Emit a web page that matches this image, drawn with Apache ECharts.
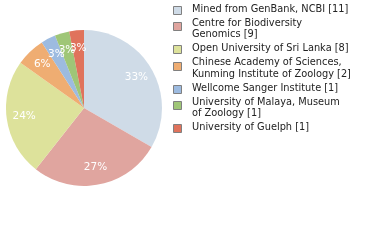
<!DOCTYPE html>
<html><head><meta charset="utf-8">
<script src="https://cdn.jsdelivr.net/npm/echarts@6/dist/echarts.min.js"></script>
<style>html,body{margin:0;padding:0;background:#fff}#c{width:380px;height:240px}</style>
</head><body><div id="c"></div>
<script>
const categories = [
  "Mined from GenBank, NCBI",
  "Centre for Biodiversity\nGenomics",
  "Open University of Sri Lanka",
  "Chinese Academy of Sciences,\nKunming Institute of Zoology",
  "Wellcome Sanger Institute",
  "University of Malaya, Museum\nof Zoology",
  "University of Guelph"
];
const values = [11, 9, 8, 2, 1, 1, 1];
const colors = ["#cfdbe7", "#e0a59f", "#dde29b", "#efad72", "#9dbbe0", "#9fc677", "#e0735c"];

const total = values.reduce((a, b) => a + b, 0);
const data = categories.map((n, i) => ({ name: n, value: values[i], itemStyle: { color: colors[i] } }));

// legend via graphic
const graphics = [];
let y = 9;
categories.forEach((n, i) => {
  const lines = n.split("\n");
  const label = lines.slice(0, -1).concat([lines[lines.length - 1] + " [" + values[i] + "]"]);
  const my = y + (lines.length > 1 ? 3 : 0.5);
  graphics.push({ type: 'rect', shape: { x: 173.5, y: Math.round(my - 4) + 0.5, width: 8, height: 8 },
    style: { fill: colors[i], stroke: '#808080', lineWidth: 1 } });
  label.forEach((t, k) => {
    graphics.push({ type: 'text', x: 192, y: y + k * 11.5,
      style: { text: t, fill: '#222', font: '9.8px "DejaVu Sans"', textVerticalAlign: 'middle' } });
  });
  y += (lines.length - 1) * 11.5 + 14;
});

const chart = echarts.init(document.getElementById('c'), null, { renderer: 'canvas' });
chart.setOption({
  animation: false,
  graphic: graphics,
  series: [
    {
      type: 'pie', center: [84, 108], radius: [0, 78], startAngle: 90, clockwise: true,
      label: { show: false }, labelLine: { show: false }, silent: true,
      itemStyle: { borderWidth: 0 },
      data: data
    },
    {
      type: 'pie', center: [84, 108], radius: [37, 78], startAngle: 90, clockwise: true,
      silent: true, labelLine: { show: false },
      labelLayout: { hideOverlap: false },
      itemStyle: { color: 'rgba(0,0,0,0)', borderWidth: 0 },
      label: {
        show: true, position: 'inside', color: '#fff',
        fontFamily: 'DejaVu Sans', fontSize: 10.5,
        formatter: p => Math.round(p.value / total * 100) + '%'
      },
      data: values.map((v, i) => ({ name: categories[i], value: v }))
    }
  ]
});
</script></body></html>
